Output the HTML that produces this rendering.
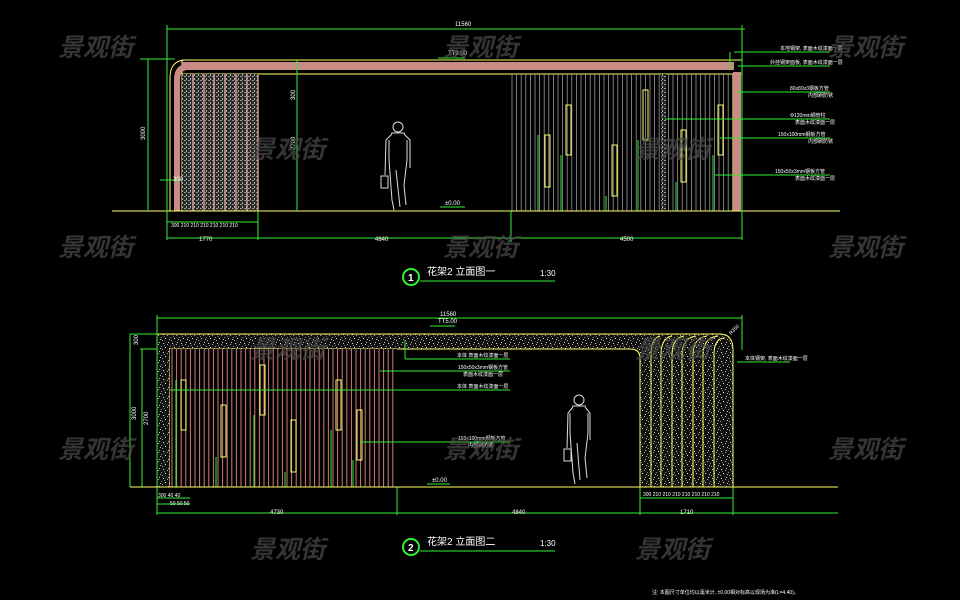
<!DOCTYPE html>
<html><head><meta charset="utf-8">
<style>
html,body{margin:0;padding:0;background:#000;}
svg{display:block;}
.t{font-family:"Liberation Sans","Noto Sans CJK SC",sans-serif;fill:#fff;}
.wm{font-family:"Liberation Sans","Noto Sans CJK SC",sans-serif;fill:#4a4a4a;font-size:25px;font-weight:bold;font-style:italic;opacity:.7;}
</style></head>
<body>
<svg id="s" width="960" height="600" viewBox="0 0 960 600" xmlns="http://www.w3.org/2000/svg">
<defs>
<pattern id="tex" width="9" height="9" patternUnits="userSpaceOnUse">
<rect width="9" height="9" fill="#111"/>
<rect x="1" y="1" width="1" height="1" fill="#ddd"/><rect x="5" y="2" width="1" height="1" fill="#aaa"/>
<rect x="3" y="5" width="1" height="1" fill="#eee"/><rect x="7" y="6" width="1" height="1" fill="#bbb"/>
<rect x="0" y="7" width="1" height="1" fill="#999"/><rect x="6" y="0" width="1" height="1" fill="#ccc"/>
<rect x="2" y="3" width="1" height="1" fill="#777"/><rect x="8" y="4" width="1" height="1" fill="#888"/>
</pattern>
<pattern id="tex2" width="4" height="4" patternUnits="userSpaceOnUse">
<rect width="4" height="4" fill="#2a2a2a"/><rect x="0" y="0" width="2" height="1" fill="#999"/><rect x="2" y="2" width="1" height="2" fill="#aaa"/>
</pattern>
</defs>

<g id="d1">
<rect x="182" y="60" width="560" height="14" fill="none" stroke="#ffff66" stroke-width="1"/>
<rect x="182" y="62" width="552" height="8" fill="#c98b85"/>
<path d="M170 211 V78 Q170 60 186 60" fill="none" stroke="#ffff66"/>
<path d="M174 211 V80 Q174 64 188 64 H190 V70 H188 Q180 70 180 80 V211 Z" fill="#c98b85"/>
<line x1="182" y1="74" x2="182" y2="211" stroke="#ffff66"/>
<rect x="182" y="74" width="76" height="137" fill="url(#tex2)"/>
<g stroke="#d49a90" stroke-width="1.5">
<line x1="193" y1="74" x2="193" y2="211"/><line x1="204" y1="74" x2="204" y2="211"/><line x1="214" y1="74" x2="214" y2="211"/><line x1="225" y1="74" x2="225" y2="211"/><line x1="236" y1="74" x2="236" y2="211"/><line x1="247" y1="74" x2="247" y2="211"/><line x1="258" y1="74" x2="258" y2="211"/>
</g>
<g id="slats1" stroke="#999" stroke-width="0.8"></g>
<line x1="733" y1="74" x2="733" y2="211" stroke="#ffff66"/>
<rect x="733" y="72" width="8" height="139" fill="#c98b85"/>
<line x1="742" y1="60" x2="742" y2="211" stroke="#ffff66"/>
<rect x="661" y="74" width="5" height="137" fill="url(#tex2)"/>
<g fill="none" stroke="#ffff66">
<rect x="545" y="135" width="5" height="52"/><rect x="566" y="105" width="5" height="50"/><rect x="612" y="145" width="5" height="51"/><rect x="643" y="90" width="5" height="50"/><rect x="681" y="130" width="5" height="52"/><rect x="718" y="105" width="5" height="50"/>
</g>
<g stroke="#33ee33" fill="none">
<line x1="538" y1="135" x2="538" y2="211"/><line x1="561" y1="155" x2="561" y2="211"/><line x1="606" y1="196" x2="606" y2="211"/><line x1="638" y1="140" x2="638" y2="211"/><line x1="676" y1="182" x2="676" y2="211"/><line x1="713" y1="155" x2="713" y2="211"/>
</g>
<line x1="112" y1="211" x2="840" y2="211" stroke="#ffff66"/>
<g stroke="#33ee33" fill="none">
<line x1="167" y1="29" x2="745" y2="29"/>
<line x1="167" y1="25" x2="167" y2="240"/><line x1="742" y1="25" x2="742" y2="240"/>
<line x1="148" y1="59" x2="148" y2="211"/><line x1="140" y1="59" x2="175" y2="59"/>
<line x1="297" y1="60" x2="297" y2="211"/>
<line x1="167" y1="222" x2="258" y2="222"/>
<line x1="167" y1="238" x2="742" y2="238"/>
<line x1="258" y1="211" x2="258" y2="240"/><line x1="511" y1="211" x2="511" y2="242"/>
<line x1="160" y1="180" x2="182" y2="180"/>
<line x1="734" y1="52" x2="830" y2="52"/><line x1="730" y1="52" x2="730" y2="70"/>
<line x1="738" y1="66" x2="830" y2="66"/>
<line x1="736" y1="92" x2="830" y2="92"/>
<line x1="665" y1="119" x2="830" y2="119"/>
<line x1="720" y1="138" x2="830" y2="138"/>
<line x1="715" y1="175" x2="830" y2="175"/>
<line x1="440" y1="207" x2="465" y2="207"/><line x1="438" y1="58" x2="465" y2="58"/>
</g>
<g class="t" font-size="6">
<text x="448" y="55">TT9.00</text>
<text x="445" y="205">±0.00</text>
<text x="455" y="26">11560</text>
<text x="199" y="241">1770</text><text x="375" y="241">4840</text><text x="620" y="241">4500</text>
<text x="171" y="227" font-size="5">300 210 210 210 210 210 210</text>
<text x="173" y="181">300</text>
<text x="145" y="140" transform="rotate(-90 145 140)">3000</text>
<text x="295" y="100" transform="rotate(-90 295 100)">300</text>
<text x="295" y="150" transform="rotate(-90 295 150)">2700</text>
<text x="780" y="50" font-size="5">本地钢架, 表面木纹漆面一层</text>
<text x="770" y="64" font-size="5">外挂钢架面板, 表面木纹漆面一层</text>
<text x="790" y="90" font-size="5">80x80x3钢板方管</text><text x="808" y="97" font-size="5">内部刷防锈</text>
<text x="790" y="117" font-size="5">Φ120mm钢管柱</text><text x="795" y="124" font-size="5">表面木纹漆面一层</text>
<text x="778" y="136" font-size="5">150x100mm钢板方管</text><text x="808" y="143" font-size="5">内部刷防锈</text>
<text x="775" y="173" font-size="5">150x50x3mm钢板方管</text><text x="795" y="180" font-size="5">表面木纹漆面一层</text>
</g>
<g fill="none" stroke="#ddd" stroke-width="1">
<circle cx="398" cy="127" r="5"/>
<path d="M392 134 L386 140 L385 175 M404 134 L410 140 L410 168 M389 140 L389 160 L392 200 L394 210 M407 140 L407 160 L404 185 L406 205 M391 133 H405 M396 170 L400 207"/>
<rect x="381" y="176" width="7" height="12"/>
</g>
<circle cx="411" cy="277" r="8" fill="none" stroke="#33ee33" stroke-width="2"/>
<text class="t" x="408" y="281" font-size="10" font-weight="bold">1</text>
<text class="t" x="427" y="275" font-size="10">花架2 立面图一</text>
<line x1="420" y1="281" x2="555" y2="281" stroke="#33ee33"/>
<text class="t" x="540" y="276" font-size="8">1:30</text>
</g>

<g id="d2">
<path d="M157 487 V334 H720 Q733 334 733 350 V487 H640 V358 Q640 349 630 349 H170 V487 Z" fill="url(#tex)" stroke="#ffff66"/>
<g fill="none" stroke="#ffff66">
<path d="M651 487 V355 Q651 338 660 336"/><path d="M661 487 V355 Q661 338 672 336"/><path d="M672 487 V355 Q672 338 684 336"/><path d="M682 487 V355 Q682 338 696 336"/><path d="M693 487 V355 Q693 338 707 336"/><path d="M703 487 V355 Q703 338 718 336"/><path d="M714 487 V355 Q714 338 725 338"/>
</g>
<rect x="170" y="349" width="227" height="138" fill="#000"/>
<g id="slats2" stroke="#d07a78" stroke-width="1"></g>
<g fill="none" stroke="#ffff66">
<rect x="181" y="380" width="5" height="50"/><rect x="221" y="405" width="5" height="52"/><rect x="260" y="365" width="5" height="50"/><rect x="291" y="420" width="5" height="52"/><rect x="336" y="380" width="5" height="50"/><rect x="357" y="410" width="5" height="50"/>
</g>
<g stroke="#33ee33" fill="none">
<line x1="176" y1="380" x2="176" y2="487"/><line x1="216" y1="457" x2="216" y2="487"/><line x1="254" y1="415" x2="254" y2="487"/><line x1="285" y1="472" x2="285" y2="487"/><line x1="331" y1="430" x2="331" y2="487"/><line x1="353" y1="460" x2="353" y2="487"/>
<line x1="157" y1="318" x2="742" y2="318"/>
<line x1="157" y1="315" x2="157" y2="515"/><line x1="742" y1="315" x2="742" y2="350"/>
<line x1="130" y1="334" x2="157" y2="334"/><line x1="140" y1="349" x2="157" y2="349"/>
<line x1="130" y1="334" x2="130" y2="487"/><line x1="142" y1="349" x2="142" y2="487"/>
<line x1="157" y1="513" x2="838" y2="513"/>
<line x1="397" y1="487" x2="397" y2="515"/>
<line x1="157" y1="498" x2="190" y2="498"/><line x1="157" y1="504" x2="190" y2="504"/>
<line x1="640" y1="487" x2="640" y2="515"/><line x1="733" y1="487" x2="733" y2="515"/>
<line x1="640" y1="498" x2="733" y2="498"/>
<line x1="405" y1="340" x2="405" y2="359"/><line x1="405" y1="359" x2="510" y2="359"/>
<line x1="380" y1="371" x2="510" y2="371"/>
<line x1="170" y1="390" x2="510" y2="390"/>
<line x1="360" y1="442" x2="510" y2="442"/>
<line x1="737" y1="362" x2="790" y2="362"/>
<line x1="427" y1="484" x2="450" y2="484"/><line x1="430" y1="326" x2="455" y2="326"/>
</g>
<line x1="130" y1="487" x2="838" y2="487" stroke="#ffff66"/>
<g class="t" font-size="6">
<text x="438" y="323">TT5.00</text><text x="432" y="482">±0.00</text>
<text x="440" y="316">11560</text>
<text x="270" y="514">4730</text><text x="512" y="514">4840</text><text x="680" y="514">1710</text>
<text x="158" y="497" font-size="5">300 40 40</text><text x="170" y="505" font-size="5">50 50 50</text>
<text x="643" y="496" font-size="5">300 210 210 210 210 210 210 210</text>
<text x="136" y="420" transform="rotate(-90 136 420)">3000</text>
<text x="138" y="345" transform="rotate(-90 138 345)">300</text>
<text x="148" y="425" transform="rotate(-90 148 425)">2700</text>
<text x="457" y="357" font-size="5">本体 表面木纹漆面一层</text>
<text x="458" y="369" font-size="5">150x50x3mm钢板方管</text><text x="463" y="376" font-size="5">表面木纹漆面一层</text>
<text x="457" y="388" font-size="5">本体 表面木纹漆面一层</text>
<text x="458" y="440" font-size="5">150x100mm钢板方管</text><text x="468" y="447" font-size="5">内部刷防锈</text>
<text x="745" y="360" font-size="5">本体钢架, 表面木纹漆面一层</text>
<text x="731" y="335" font-size="5" transform="rotate(-45 731 335)">R350</text>
<text x="652" y="594" font-size="5">注: 本图尺寸单位均以毫米计, ±0.00相对标高以现场为准(L=4.40)。</text>
</g>
<g fill="none" stroke="#ddd" stroke-width="1">
<circle cx="579" cy="400" r="5"/>
<path d="M573 407 L568 413 L567 448 M585 407 L590 413 L590 440 M570 413 L570 433 L573 473 L575 484 M588 413 L588 433 L585 458 L587 478 M572 406 H586 M577 443 L580 480"/>
<rect x="564" y="449" width="7" height="12"/>
</g>
<circle cx="411" cy="547" r="8" fill="none" stroke="#33ee33" stroke-width="2"/>
<text class="t" x="408" y="551" font-size="10" font-weight="bold">2</text>
<text class="t" x="427" y="545" font-size="10">花架2 立面图二</text>
<line x1="420" y1="551" x2="555" y2="551" stroke="#33ee33"/>
<text class="t" x="540" y="546" font-size="8">1:30</text>
</g>

<g class="wm">
<text x="58" y="56">景观街</text><text x="443" y="56">景观街</text><text x="828" y="56">景观街</text>
<text x="250" y="158">景观街</text><text x="635" y="158">景观街</text>
<text x="58" y="256">景观街</text><text x="443" y="256">景观街</text><text x="828" y="256">景观街</text>
<text x="250" y="358">景观街</text><text x="635" y="358">景观街</text>
<text x="58" y="458">景观街</text><text x="443" y="458">景观街</text><text x="828" y="458">景观街</text>
<text x="250" y="558">景观街</text><text x="635" y="558">景观街</text>
</g>
</svg>
<script>
var NS="http://www.w3.org/2000/svg";
function ln(g,x1,y1,x2,y2){var l=document.createElementNS(NS,"line");l.setAttribute("x1",x1);l.setAttribute("y1",y1);l.setAttribute("x2",x2);l.setAttribute("y2",y2);g.appendChild(l);}
var g1=document.getElementById("slats1");
for(var x=512;x<733;x+=4.6){ln(g1,x.toFixed(1),74,x.toFixed(1),211);}
var g2=document.getElementById("slats2");
for(var x=172;x<397;x+=4.6){ln(g2,x.toFixed(1),349,x.toFixed(1),487);}
</script>
</body></html>
